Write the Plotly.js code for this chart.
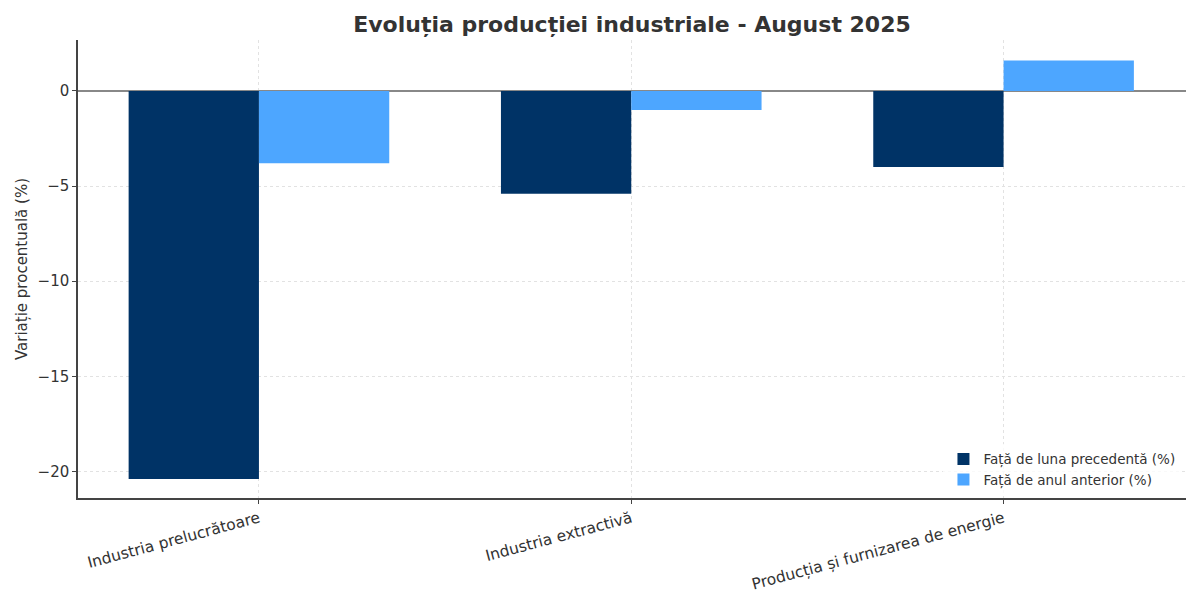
<!DOCTYPE html>
<html>
<head>
<meta charset="utf-8">
<script src="https://cdn.plot.ly/plotly-3.0.1.min.js"></script>
<style>html,body{margin:0;padding:0;background:#fff;}#chart{width:1200px;height:600px;}</style>
</head>
<body>
<div id="chart"></div>
<script>
const categories = ["Industria prelucrătoare", "Industria extractivă", "Producția și furnizarea de energie"];
const fataLunaPrecedenta = [-20.4, -5.4, -4.0];
const fataAnulAnterior = [-3.8, -1.0, 1.6];
const seriesNames = ["Față de luna precedentă (%)", "Față de anul anterior (%)"];
const yTicks = [-20, -15, -10, -5, 0];

const font = "DejaVu Sans, sans-serif";
const traces = [
  {type: "bar", x: categories, y: fataLunaPrecedenta, name: seriesNames[0], marker: {color: "#003366"}},
  {type: "bar", x: categories, y: fataAnulAnterior, name: seriesNames[1], marker: {color: "#4da6ff"}}
];
const layout = {
  width: 1200, height: 600,
  margin: {l: 78, r: 14, t: 40, b: 102},
  paper_bgcolor: "#fff", plot_bgcolor: "#fff",
  font: {family: font, color: "#333", size: 15},
  title: {text: "<b>Evoluția producției industriale - August 2025</b>", font: {family: font, size: 22, color: "#333"}, xref: "paper", x: 0.5, xanchor: "center", y: 0.96, yanchor: "middle"},
  barmode: "group", bargap: 0.3, bargroupgap: 0,
  xaxis: {
    type: "category", range: [-0.486, 2.49],
    showline: true, linecolor: "#444", linewidth: 1.5,
    ticks: "outside", ticklen: 4, tickcolor: "#444",
    tickangle: -15, tickfont: {size: 15.5, color: "#333"},
    showgrid: true, gridcolor: "#e2e2e2", griddash: "3px,3px", gridwidth: 1,
    zeroline: false
  },
  yaxis: {
    range: [-21.4, 2.68],
    tickvals: yTicks, ticktext: yTicks.map(v => v < 0 ? "\u2212" + Math.abs(v) : String(v)),
    showline: true, linecolor: "#444", linewidth: 1.5,
    ticks: "outside", ticklen: 4, tickcolor: "#444",
    tickfont: {size: 15, color: "#333"},
    showgrid: true, gridcolor: "#e2e2e2", griddash: "3px,3px", gridwidth: 1,
    zeroline: true, zerolinecolor: "#888", zerolinewidth: 1.5,
    title: {text: "Variație procentuală (%)", font: {size: 15, color: "#333"}, standoff: 6}
  },
  legend: {x: 0.995, xanchor: "right", y: 0.005, yanchor: "bottom", bgcolor: "rgba(255,255,255,0.8)", font: {size: 13.5, color: "#333"}, traceorder: "normal", itemwidth: 30},
  showlegend: true
};
Plotly.newPlot("chart", traces, layout, {displayModeBar: false});
</script>
</body>
</html>
